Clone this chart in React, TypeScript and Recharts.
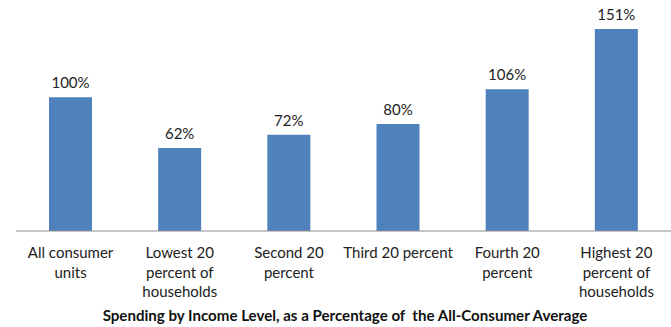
import { BarChart, Bar, XAxis, YAxis, LabelList, Label } from "recharts";

const categories = [
  "All consumer units",
  "Lowest 20 percent of households",
  "Second 20 percent",
  "Third 20 percent",
  "Fourth 20 percent",
  "Highest 20 percent of households",
];
// how each category label wraps in the picture
const tickLines = [
  ["All consumer", "units"],
  ["Lowest 20", "percent of", "households"],
  ["Second 20", "percent"],
  ["Third 20 percent"],
  ["Fourth 20", "percent"],
  ["Highest 20", "percent of", "households"],
];
const spending = [100, 62, 72, 80, 106, 151];
const title = "Spending by Income Level, as a Percentage of  the All-Consumer Average";

const data = categories.map((c, i) => ({ name: c, value: spending[i] }));

const FONT = "Lato, 'Open Sans', sans-serif";

const CategoryTick = (props: any) => {
  const { x, y, index } = props;
  const lines = tickLines[index] || [];
  return (
    <text x={x} y={y} textAnchor="middle" fontFamily={FONT} fontSize={15} fill="#222">
      {lines.map((l, i) => (
        <tspan key={i} x={x} dy={i === 0 ? 19 : 19.5}>
          {l}
        </tspan>
      ))}
    </text>
  );
};

const TitleLabel = () => (
  <text
    x={345}
    y={321}
    textAnchor="middle"
    fontFamily={FONT}
    fontWeight={700}
    fontSize={15.1}
    fill="#111"
    style={{ whiteSpace: "pre" }}
  >
    {title}
  </text>
);

export default function App() {
  return (
    <div style={{ width: 671, height: 327, background: "#fff" }}>
      <style>{"body{margin:0}"}</style>
      <BarChart
        width={671}
        height={327}
        data={data}
        margin={{ top: 17, right: 0, left: 16, bottom: 0 }}
        barSize={43}
      >
        <XAxis
          dataKey="name"
          interval={0}
          tick={<CategoryTick />}
          tickLine={false}
          axisLine={{ stroke: "#8c8c8c" }}
          height={96}
        >
          <Label content={<TitleLabel />} />
        </XAxis>
        <YAxis hide domain={[0, 160]} />
        <Bar dataKey="value" fill="#4f81bd" isAnimationActive={false}>
          <LabelList
            dataKey="value"
            position="top"
            offset={9}
            formatter={(v: any) => `${v}%`}
            style={{ fontFamily: FONT, fontSize: 15, fill: "#222" }}
          />
        </Bar>
      </BarChart>
    </div>
  );
}
